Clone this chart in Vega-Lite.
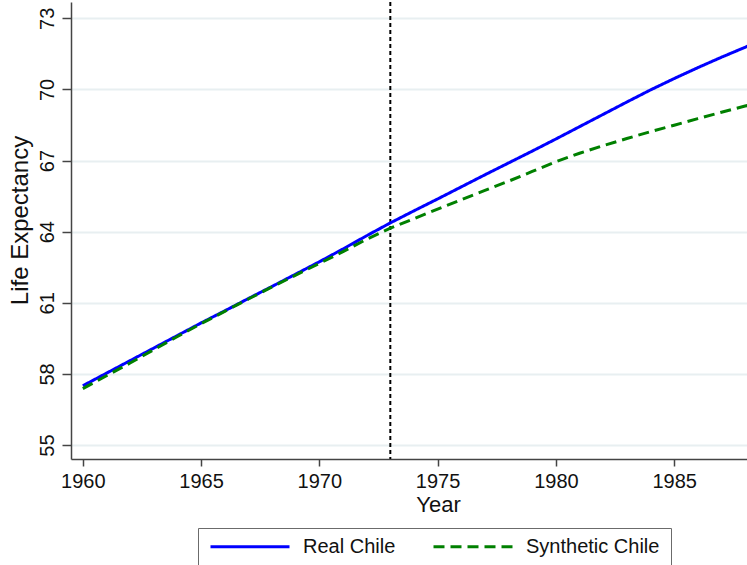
{
  "$schema": "https://vega.github.io/schema/vega-lite/v6.json",
  "autosize": {"type": "none"},
  "width": 676,
  "height": 457,
  "padding": {"left": 71, "top": 2, "right": 0, "bottom": 106},
  "background": "white",
  "config": {
    "view": {"stroke": null},
    "font": "Liberation Sans",
    "axis": {"labelFont": "Liberation Sans", "titleFont": "Liberation Sans", "labelColor": "#111", "titleColor": "#111", "titleFontWeight": "normal"},
    "legend": {"labelFont": "Liberation Sans", "strokeColor": "#6b6b6b"}
  },
  "datasets": {
    "series": [
      {"year": 1960, "series": "Real Chile", "value": 57.50},
      {"year": 1961, "series": "Real Chile", "value": 58.03},
      {"year": 1962, "series": "Real Chile", "value": 58.56},
      {"year": 1963, "series": "Real Chile", "value": 59.09},
      {"year": 1964, "series": "Real Chile", "value": 59.62},
      {"year": 1965, "series": "Real Chile", "value": 60.15},
      {"year": 1966, "series": "Real Chile", "value": 60.66},
      {"year": 1967, "series": "Real Chile", "value": 61.18},
      {"year": 1968, "series": "Real Chile", "value": 61.69},
      {"year": 1969, "series": "Real Chile", "value": 62.21},
      {"year": 1970, "series": "Real Chile", "value": 62.73},
      {"year": 1971, "series": "Real Chile", "value": 63.27},
      {"year": 1972, "series": "Real Chile", "value": 63.83},
      {"year": 1973, "series": "Real Chile", "value": 64.37},
      {"year": 1974, "series": "Real Chile", "value": 64.88},
      {"year": 1975, "series": "Real Chile", "value": 65.38},
      {"year": 1976, "series": "Real Chile", "value": 65.89},
      {"year": 1977, "series": "Real Chile", "value": 66.40},
      {"year": 1978, "series": "Real Chile", "value": 66.90},
      {"year": 1979, "series": "Real Chile", "value": 67.40},
      {"year": 1980, "series": "Real Chile", "value": 67.91},
      {"year": 1981, "series": "Real Chile", "value": 68.43},
      {"year": 1982, "series": "Real Chile", "value": 68.95},
      {"year": 1983, "series": "Real Chile", "value": 69.47},
      {"year": 1984, "series": "Real Chile", "value": 69.98},
      {"year": 1985, "series": "Real Chile", "value": 70.46},
      {"year": 1986, "series": "Real Chile", "value": 70.92},
      {"year": 1987, "series": "Real Chile", "value": 71.36},
      {"year": 1988, "series": "Real Chile", "value": 71.78},
      {"year": 1989, "series": "Real Chile", "value": 72.20},
      {"year": 1990, "series": "Real Chile", "value": 72.60},
      {"year": 1960, "series": "Synthetic Chile", "value": 57.38},
      {"year": 1961, "series": "Synthetic Chile", "value": 57.92},
      {"year": 1962, "series": "Synthetic Chile", "value": 58.46},
      {"year": 1963, "series": "Synthetic Chile", "value": 59.02},
      {"year": 1964, "series": "Synthetic Chile", "value": 59.58},
      {"year": 1965, "series": "Synthetic Chile", "value": 60.12},
      {"year": 1966, "series": "Synthetic Chile", "value": 60.64},
      {"year": 1967, "series": "Synthetic Chile", "value": 61.16},
      {"year": 1968, "series": "Synthetic Chile", "value": 61.67},
      {"year": 1969, "series": "Synthetic Chile", "value": 62.17},
      {"year": 1970, "series": "Synthetic Chile", "value": 62.66},
      {"year": 1971, "series": "Synthetic Chile", "value": 63.16},
      {"year": 1972, "series": "Synthetic Chile", "value": 63.68},
      {"year": 1973, "series": "Synthetic Chile", "value": 64.15},
      {"year": 1974, "series": "Synthetic Chile", "value": 64.55},
      {"year": 1975, "series": "Synthetic Chile", "value": 64.95},
      {"year": 1976, "series": "Synthetic Chile", "value": 65.35},
      {"year": 1977, "series": "Synthetic Chile", "value": 65.74},
      {"year": 1978, "series": "Synthetic Chile", "value": 66.13},
      {"year": 1979, "series": "Synthetic Chile", "value": 66.54},
      {"year": 1980, "series": "Synthetic Chile", "value": 66.95},
      {"year": 1981, "series": "Synthetic Chile", "value": 67.31},
      {"year": 1982, "series": "Synthetic Chile", "value": 67.63},
      {"year": 1983, "series": "Synthetic Chile", "value": 67.93},
      {"year": 1984, "series": "Synthetic Chile", "value": 68.22},
      {"year": 1985, "series": "Synthetic Chile", "value": 68.49},
      {"year": 1986, "series": "Synthetic Chile", "value": 68.77},
      {"year": 1987, "series": "Synthetic Chile", "value": 69.04},
      {"year": 1988, "series": "Synthetic Chile", "value": 69.30},
      {"year": 1989, "series": "Synthetic Chile", "value": 69.55},
      {"year": 1990, "series": "Synthetic Chile", "value": 69.80}
    ],
    "event": [{"year": 1973}]
  },
  "layer": [
    {
      "data": {"name": "event"},
      "mark": {"type": "rule", "color": "black", "strokeWidth": 2, "strokeDash": [4, 3]},
      "encoding": {
        "x": {"field": "year", "type": "quantitative", "scale": {"domain": [1959.5, 1988.08], "nice": false, "zero": false}}
      }
    },
    {
      "data": {"name": "series"},
      "mark": {"type": "line", "strokeWidth": 3, "clip": true},
      "encoding": {
        "x": {
          "field": "year", "type": "quantitative",
          "scale": {"domain": [1959.5, 1988.08], "nice": false, "zero": false},
          "axis": {
            "title": "Year", "values": [1960, 1965, 1970, 1975, 1980, 1985], "format": "d",
            "grid": false, "domainColor": "#444", "domainWidth": 1.5, "tickColor": "#444", "tickWidth": 1.5, "tickSize": 7,
            "labelFontSize": 20, "labelPadding": 5, "titleFontSize": 22,
            "titleX": 367, "titleY": 52, "titleAlign": "center", "titleBaseline": "alphabetic"
          }
        },
        "y": {
          "field": "value", "type": "quantitative",
          "scale": {"domain": [54.41, 73.69], "nice": false, "zero": false},
          "axis": {
            "title": "Life Expectancy", "values": [55, 58, 61, 64, 67, 70, 73],
            "grid": true, "gridColor": "#e8eff1", "gridWidth": 2,
            "domainColor": "#444", "domainWidth": 1.5, "tickColor": "#444", "tickWidth": 1.5, "tickSize": 9,
            "labelFontSize": 20, "labelAngle": -90, "labelAlign": "center", "labelBaseline": "alphabetic", "labelPadding": 9,
            "titleFontSize": 24, "titleX": -44, "titleY": 218, "titleAlign": "center", "titleBaseline": "alphabetic", "titleAngle": -90
          }
        },
        "color": {
          "field": "series", "type": "nominal",
          "scale": {"domain": ["Real Chile", "Synthetic Chile"], "range": ["#0000ff", "#008000"]},
          "legend": {
            "title": null, "orient": "none", "legendX": 127, "legendY": 526, "direction": "horizontal",
            "symbolType": "stroke", "symbolSize": 6241, "symbolStrokeWidth": 3, "clipHeight": 15,
            "labelFontSize": 20, "labelColor": "#111", "labelOffset": 12, "columnPadding": 36,
            "strokeColor": "#6b6b6b", "padding": 11, "fillColor": "white"
          }
        },
        "strokeDash": {
          "field": "series", "type": "nominal",
          "scale": {"domain": ["Real Chile", "Synthetic Chile"], "range": [[1, 0], [11, 6]]}
        }
      }
    }
  ]
}
